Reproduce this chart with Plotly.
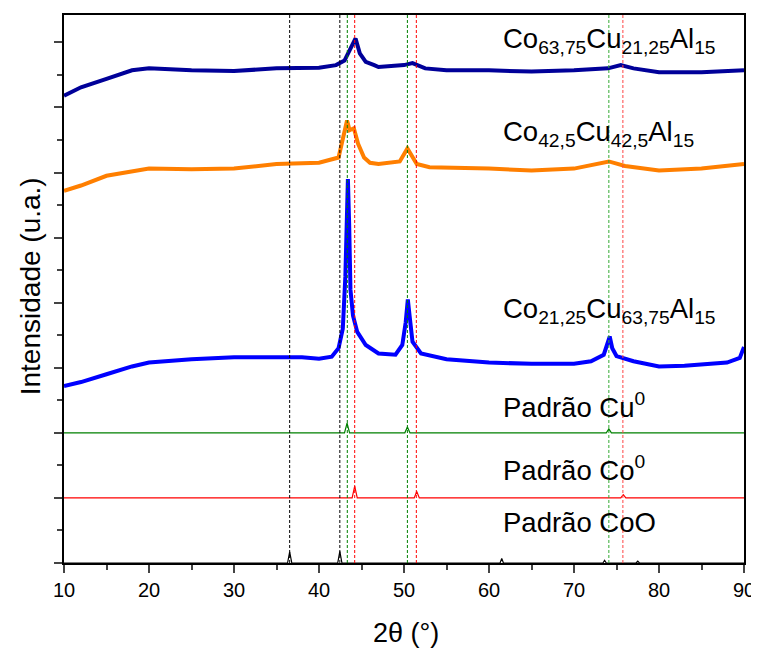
import plotly.graph_objects as go

# --- Data (y in arbitrary stacked units) ---
x_co6375 = [10, 12, 15, 18, 20, 25, 30, 35, 40, 42, 43, 43.8, 44.3, 44.8, 45.5, 46.5, 47, 50, 51, 52.5, 55, 60, 65, 70, 74, 75.5, 77, 80, 85, 90]
y_co6375 = [7.18, 7.31, 7.44, 7.57, 7.60, 7.57, 7.56, 7.60, 7.61, 7.65, 7.72, 7.92, 8.06, 7.83, 7.70, 7.65, 7.62, 7.65, 7.68, 7.60, 7.57, 7.57, 7.55, 7.57, 7.60, 7.65, 7.60, 7.54, 7.54, 7.57]

x_co425 = [10, 12, 15, 18, 20, 25, 30, 35, 40, 42.3, 42.8, 43.3, 43.6, 44.1, 44.6, 45.3, 46, 47, 49.5, 50.4, 51.5, 53, 60, 65, 70, 74.1, 76, 80, 85, 90]
y_co425 = [5.72, 5.80, 5.95, 6.02, 6.06, 6.05, 6.06, 6.13, 6.15, 6.23, 6.50, 6.80, 6.65, 6.68, 6.44, 6.23, 6.15, 6.13, 6.17, 6.37, 6.13, 6.08, 6.06, 6.03, 6.06, 6.17, 6.10, 6.03, 6.06, 6.13]

x_co2125 = [10, 12, 15, 18, 20, 25, 30, 33, 36, 38, 40, 41.5, 42.3, 42.8, 43.1, 43.3, 43.4, 43.55, 43.7, 44.0, 44.5, 45.5, 47, 49, 49.8, 50.2, 50.45, 50.7, 51, 52, 55, 60, 65, 70, 72, 73.5, 74.0, 74.2, 74.5, 75, 77, 80, 83, 86, 88, 89.5, 90]
y_co2125 = [2.72, 2.78, 2.90, 3.02, 3.08, 3.13, 3.16, 3.16, 3.17, 3.16, 3.14, 3.17, 3.30, 3.60, 4.40, 5.60, 5.90, 5.20, 4.20, 3.80, 3.55, 3.35, 3.22, 3.20, 3.35, 3.70, 4.05, 3.75, 3.40, 3.22, 3.13, 3.08, 3.06, 3.06, 3.10, 3.20, 3.40, 3.48, 3.30, 3.18, 3.10, 3.02, 3.03, 3.06, 3.08, 3.15, 3.32]

x_cu = [10, 43.0, 43.3, 43.6, 50.1, 50.4, 50.7, 73.8, 74.1, 74.4, 90]
y_cu = [2.0, 2.0, 2.15, 2.0, 2.0, 2.09, 2.0, 2.0, 2.06, 2.0, 2.0]

x_co = [10, 43.9, 44.2, 44.5, 51.2, 51.5, 51.8, 75.5, 75.8, 76.1, 90]
y_co = [1.0, 1.0, 1.18, 1.0, 1.0, 1.10, 1.0, 1.0, 1.05, 1.0, 1.0]

x_coo = [10, 36.3, 36.55, 36.8, 42.2, 42.45, 42.7, 61.3, 61.5, 61.7, 73.4, 73.6, 73.8, 77.3, 77.5, 77.7, 90]
y_coo = [0.0, 0.0, 0.17, 0.0, 0.0, 0.18, 0.0, 0.0, 0.07, 0.0, 0.0, 0.04, 0.0, 0.0, 0.03, 0.0, 0.0]

ref_lines_x = [36.55, 42.45, 43.33, 44.2, 50.4, 51.45, 74.1, 75.75]
ref_lines_color = ["black", "black", "green", "red", "green", "red", "#33aa33", "#ff4444"]

labels = ["Co<sub>63,75</sub>Cu<sub>21,25</sub>Al<sub>15</sub>",
          "Co<sub>42,5</sub>Cu<sub>42,5</sub>Al<sub>15</sub>",
          "Co<sub>21,25</sub>Cu<sub>63,75</sub>Al<sub>15</sub>",
          "Padrão Cu<sup>0</sup>",
          "Padrão Co<sup>0</sup>",
          "Padrão CoO"]
label_y = [8.03, 6.60, 3.88, 2.42, 1.45, 0.62]
label_x = 61.4

FONT = "Arial, Liberation Sans, sans-serif"

fig = go.Figure()

series = [
    (x_coo, y_coo, "black", 1.2),
    (x_co, y_co, "red", 1.2),
    (x_cu, y_cu, "green", 1.2),
    (x_co2125, y_co2125, "#0000ff", 4),
    (x_co425, y_co425, "#ff7f00", 4),
    (x_co6375, y_co6375, "#000099", 4),
]
for xs, ys, c, w in series:
    fig.add_trace(go.Scatter(x=xs, y=ys, mode="lines", line=dict(color=c, width=w), showlegend=False))

for xv, c in zip(ref_lines_x, ref_lines_color):
    fig.add_shape(type="line", xref="x", yref="paper", x0=xv, x1=xv, y0=0, y1=1,
                  line=dict(color=c, width=1, dash="3px,2px"))

for t, yv in zip(labels, label_y):
    fig.add_annotation(x=label_x, y=yv, xref="x", yref="y", text=t, showarrow=False,
                       xanchor="left", yanchor="middle",
                       font=dict(family=FONT, size=27.5, color="black"))

# axis titles
fig.add_annotation(x=-0.05, y=0.505, xref="paper", yref="paper", text="Intensidade (u.a.)",
                   textangle=-90, showarrow=False, xanchor="center", yanchor="middle",
                   font=dict(family=FONT, size=28, color="black"))
fig.add_annotation(x=0.503, y=-0.128, xref="paper", yref="paper", text="2θ (°)",
                   showarrow=False, xanchor="center", yanchor="middle",
                   font=dict(family=FONT, size=27, color="black"))

# page body adds an 8px offset; size the figure to fit the window
fig.update_layout(
    width=751, height=643,
    margin=dict(l=56, r=15, t=7, b=88, autoexpand=False),
    plot_bgcolor="white", paper_bgcolor="white",
    font=dict(family=FONT, color="black"),
)
fig.update_xaxes(range=[10, 90], dtick=10, tick0=10, ticks="outside", ticklen=8, tickwidth=2,
                 minor=dict(dtick=5, ticks="outside", ticklen=5, tickwidth=1.5),
                 showline=True, linecolor="black", linewidth=2, mirror=True, showgrid=False,
                 zeroline=False, tickfont=dict(size=20), automargin=False)
fig.update_yaxes(range=[0, 8.42], dtick=1, tick0=0, ticks="outside", ticklen=8, tickwidth=2,
                 minor=dict(dtick=0.5, ticks="outside", ticklen=5, tickwidth=1.5),
                 showticklabels=False,
                 showline=True, linecolor="black", linewidth=2, mirror=True, showgrid=False,
                 zeroline=False, automargin=False)

fig.write_html("out.html")
